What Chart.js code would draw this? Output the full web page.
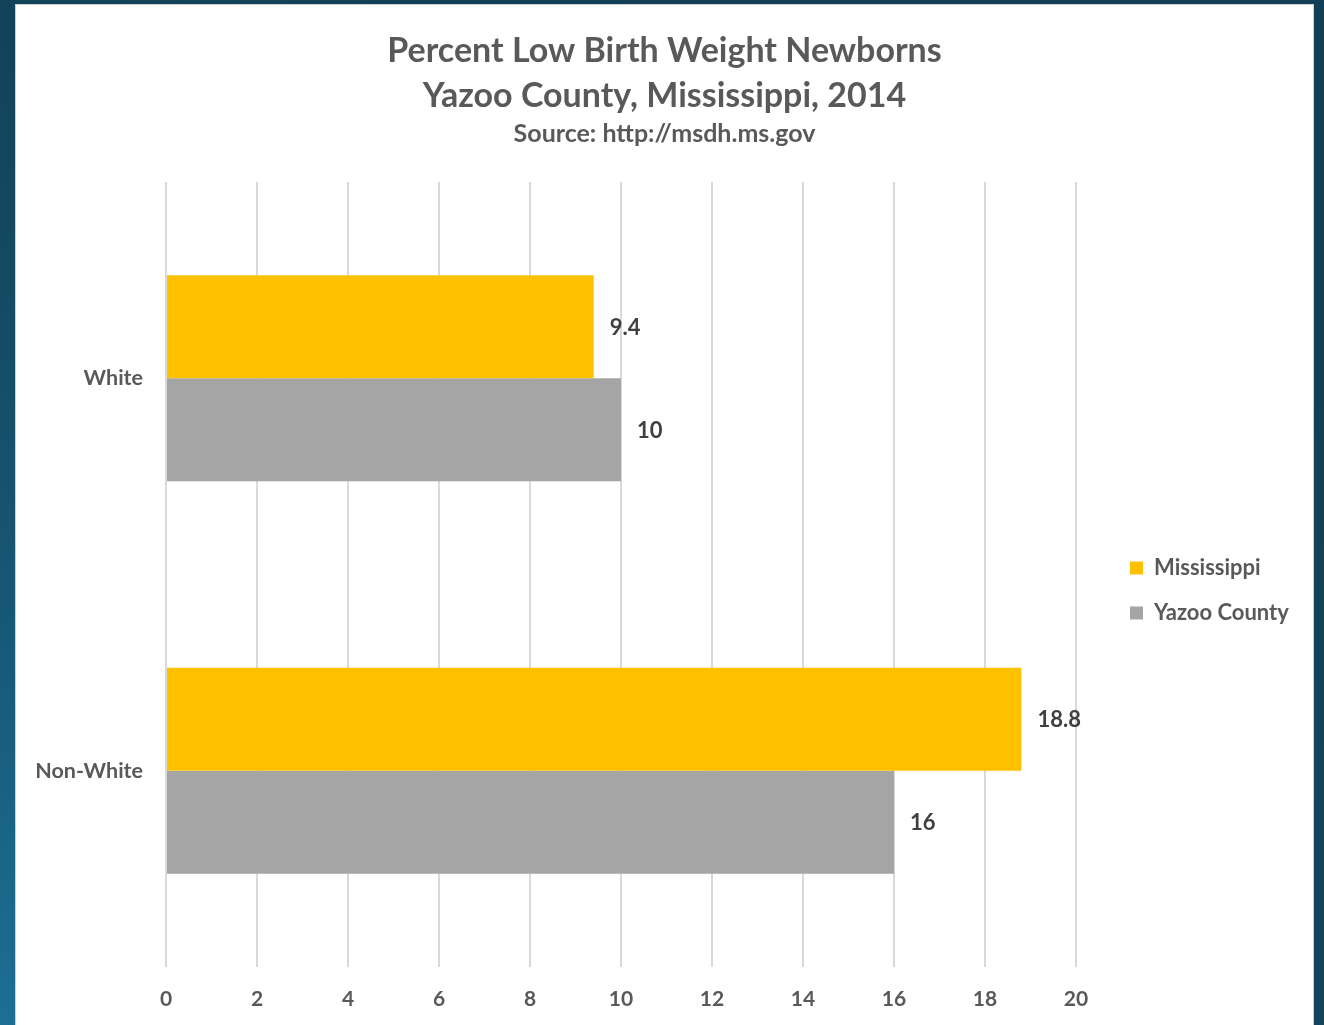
<!DOCTYPE html>
<html>
<head>
<meta charset="utf-8">
<script src="https://cdn.jsdelivr.net/npm/chart.js@4.4.0/dist/chart.umd.min.js"></script>
<style>
  html, body { margin: 0; padding: 0; width: 1324px; height: 1025px; overflow: hidden; }
  body {
    background: radial-gradient(ellipse 120% 110% at 0% 100%, #1c6f94 0%, #175877 35%, #144a63 65%, #123f55 100%);
  }
  #panel {
    position: absolute; left: 16px; top: 5px; width: 1297px; height: 1020px;
    background: #ffffff; box-shadow: 0 0 0 1px #cfcfcf;
  }
  #panel canvas { position: absolute; left: 0; top: 0; }
</style>
</head>
<body>
<div id="panel"><canvas id="chart" width="1297" height="1020"></canvas></div>
<script>
// Percent of newborns with low birth weight, by race
const categories = ['White', 'Non-White'];
const mississippiPct = [9.4, 18.8];
const yazooPct = [10, 16];
const seriesNames = ['Mississippi', 'Yazoo County'];
const seriesColors = ['#FFC000', '#A5A5A5'];
const titleLines = ['Percent Low Birth Weight Newborns', 'Yazoo County, Mississippi, 2014'];
const sourceLine = 'Source: http://msdh.ms.gov';
const xMin = 0;
const xMax = 20;
const xStep = 2;

const FONT = "Lato, 'Open Sans', sans-serif";
const TEXT_GREY = '#595959';

// value label drawn just past the end of each bar
const valueLabels = {
  id: 'valueLabels',
  afterDatasetsDraw(chart) {
    const ctx = chart.ctx;
    ctx.save();
    ctx.font = 'bold 22px ' + FONT;
    ctx.fillStyle = '#404040';
    ctx.textAlign = 'left';
    ctx.textBaseline = 'middle';
    chart.data.datasets.forEach((ds, i) => {
      chart.getDatasetMeta(i).data.forEach((bar, j) => {
        ctx.fillText(String(ds.data[j]), bar.x + 16, bar.y + 1);
      });
    });
    ctx.restore();
  }
};

// legend sizing: measure the widest entry so the legend box sits at a fixed spot
const LEGEND_FONT_SIZE = 22;
const LEGEND_PAD = 23;
const measureCtx = document.createElement('canvas').getContext('2d');
measureCtx.font = 'bold ' + LEGEND_FONT_SIZE + 'px ' + FONT;
const legendTextW = Math.max(...seriesNames.map(s => measureCtx.measureText(s).width));
const sidePad = Math.max(0, 149 - legendTextW);

new Chart(document.getElementById('chart'), {
  type: 'bar',
  data: {
    labels: categories,
    datasets: [
      { label: seriesNames[0], data: mississippiPct, backgroundColor: seriesColors[0], xAxisID: 'x', yAxisID: 'y' },
      { label: seriesNames[1], data: yazooPct, backgroundColor: seriesColors[1], xAxisID: 'x', yAxisID: 'y' }
    ]
  },
  options: {
    indexAxis: 'y',
    responsive: false,
    animation: false,
    datasets: { bar: { barPercentage: 1, categoryPercentage: 0.525 } },
    layout: { padding: { left: sidePad, right: sidePad, top: 0, bottom: 0 } },
    scales: {
      x: {
        type: 'linear',
        position: 'bottom',
        min: xMin,
        max: xMax,
        ticks: { stepSize: xStep, color: TEXT_GREY, font: { family: FONT, size: 21, weight: 'bold' }, padding: 20 },
        grid: { color: '#d9d9d9', lineWidth: 2, drawTicks: false },
        border: { display: false },
        afterFit(s) { s.height = 58; }
      },
      y: {
        type: 'category',
        position: 'left',
        ticks: { color: TEXT_GREY, font: { family: FONT, size: 21.5, weight: 'bold' }, padding: 23 },
        grid: { display: false, drawTicks: false },
        border: { display: false },
        afterFit(s) { s.width = 150 - sidePad; }
      },
      gap: {
        type: 'linear',
        position: 'right',
        display: true,
        ticks: { display: false },
        grid: { display: false, drawTicks: false },
        border: { display: false },
        afterFit(s) { s.width = 54 - LEGEND_PAD; }
      }
    },
    plugins: {
      title: {
        display: true,
        text: titleLines,
        color: TEXT_GREY,
        font: { family: FONT, size: 34, weight: 'bold', lineHeight: 45 / 34 },
        padding: { top: 24, bottom: 0 }
      },
      subtitle: {
        display: true,
        text: sourceLine,
        color: TEXT_GREY,
        font: { family: FONT, size: 25, weight: 'bold', lineHeight: 1.2 },
        padding: { top: 0, bottom: 33 }
      },
      legend: {
        display: true,
        position: 'right',
        align: 'center',
        fullSize: false,
        title: { display: true, text: '', font: { size: 12, lineHeight: 1 }, padding: { top: 20, bottom: 0 } },
        labels: {
          boxWidth: 13,
          boxHeight: 13,
          padding: LEGEND_PAD,
          color: TEXT_GREY,
          font: { family: FONT, size: LEGEND_FONT_SIZE, weight: 'bold' }
        }
      },
      tooltip: { enabled: false }
    }
  },
  plugins: [valueLabels]
});
</script>
</body>
</html>
